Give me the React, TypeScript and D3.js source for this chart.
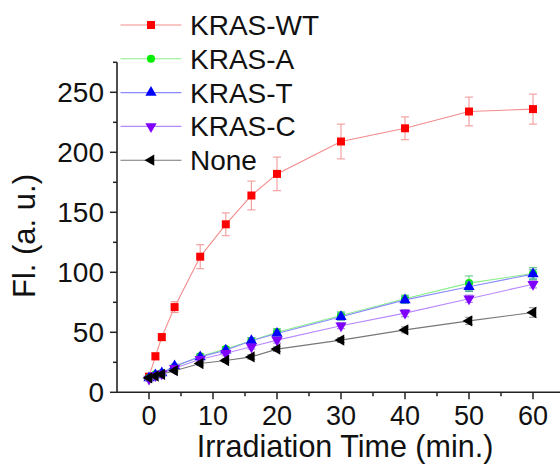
import React from "react";
import * as d3 from "d3";

const times = [0, 1, 2, 4, 8, 12, 16, 20, 30, 40, 50, 60];
const wtValues = [13, 30, 46, 71, 113, 140, 164, 182, 209, 220, 234, 236];
const wtErrors = [1.5, 3, 3, 4.5, 10, 9.5, 12, 14, 14.5, 9.5, 12, 12.5];
const aValues = [12, 15, 16, 21, 30, 36, 43, 50, 64, 78, 91, 99];
const aErrors = [1, 1, 1, 1.5, 2, 2, 2.5, 3, 3, 3, 6, 5];
const tValues = [12, 14.5, 16, 22, 29.5, 35, 43, 49, 63, 77, 88, 98.5];
const tErrors = [1, 1, 1, 1.5, 2, 2, 2.5, 2.5, 3, 3, 4, 4];
const cValues = [11, 14, 15.5, 20, 27.5, 32.5, 38, 43.5, 55.5, 66, 78, 90];
const cErrors = [1, 1, 1, 1.5, 2, 2, 2, 2.5, 2.5, 3, 3, 3];
const noneValues = [12, 13.5, 15, 18, 24, 26.5, 29.5, 36, 43.5, 52, 59.5, 66.5];
const noneErrors = [1, 1, 1, 1, 1.5, 1.5, 2, 2, 2, 2.5, 3, 4];

const seriesNames = ["KRAS-WT", "KRAS-A", "KRAS-T", "KRAS-C", "None"];
const xTicks = [0, 10, 20, 30, 40, 50, 60];
const yTicks = [0, 50, 100, 150, 200, 250];

const seriesStyle = [
  { marker: "#ff0000", line: "#f38b8b", err: "#f29a9a", shape: d3.symbolSquare, size: 64, rot: 0 },
  { marker: "#00ee00", line: "#88ee88", err: "#66cc88", shape: d3.symbolCircle, size: 52, rot: 0 },
  { marker: "#0000ff", line: "#8a8aff", err: "#55aaaa", shape: d3.symbolTriangle, size: 55, rot: 0 },
  { marker: "#8000ff", line: "#b888ff", err: "#aa88dd", shape: d3.symbolTriangle, size: 55, rot: 180 },
  { marker: "#000000", line: "#777777", err: "#999999", shape: d3.symbolTriangle, size: 55, rot: -90 },
];

const seriesData = [
  { values: wtValues, errors: wtErrors },
  { values: aValues, errors: aErrors },
  { values: tValues, errors: tErrors },
  { values: cValues, errors: cErrors },
  { values: noneValues, errors: noneErrors },
];

const FONT = "Arial, 'Liberation Sans', sans-serif";

export default function App() {
  const x = d3.scaleLinear().domain([-5, 65]).range([117, 565]);
  const y = d3.scaleLinear().domain([0, 275]).range([392.3, 62.3]);
  const line = d3
    .line<number>()
    .x((_, i) => x(times[i]))
    .y((d) => y(d));

  const xMinor = d3.range(5, 65, 10);
  const yMinor = d3.range(25, 276, 50);
  const axisColor = "#222";

  return (
    <svg
      width={560}
      height={464}
      style={{ position: "absolute", left: 0, top: 0, background: "#fff" }}
      fontFamily={FONT}
    >
      {/* axes */}
      <line x1={x(-5)} x2={560} y1={y(0)} y2={y(0)} stroke={axisColor} strokeWidth={1.6} />
      <line x1={x(-5)} x2={x(-5)} y1={y(0)} y2={y(275)} stroke={axisColor} strokeWidth={1.6} />
      {xTicks.map((t) => (
        <g key={"xt" + t}>
          <line x1={x(t)} x2={x(t)} y1={y(0)} y2={y(0) + 7} stroke={axisColor} strokeWidth={1.5} />
          <text x={x(t)} y={424.5} textAnchor="middle" fontSize={27} fill="#111">
            {t}
          </text>
        </g>
      ))}
      {xMinor.map((t) => (
        <line key={"xm" + t} x1={x(t)} x2={x(t)} y1={y(0)} y2={y(0) + 4} stroke={axisColor} strokeWidth={1.5} />
      ))}
      {yTicks.map((v) => (
        <g key={"yt" + v}>
          <line x1={x(-5) - 7} x2={x(-5)} y1={y(v)} y2={y(v)} stroke={axisColor} strokeWidth={1.5} />
          <text x={104} y={y(v) + 10} textAnchor="end" fontSize={28} fill="#111">
            {v}
          </text>
        </g>
      ))}
      {yMinor.map((v) => (
        <line key={"ym" + v} x1={x(-5) - 4} x2={x(-5)} y1={y(v)} y2={y(v)} stroke={axisColor} strokeWidth={1.5} />
      ))}
      <text x={345} y={457} textAnchor="middle" fontSize={30.5} fill="#111">
        Irradiation Time (min.)
      </text>
      <text
        transform={`translate(35, 236) rotate(-90)`}
        textAnchor="middle"
        fontSize={31}
        fill="#111"
      >
        Fl. (a. u.)
      </text>

      {/* series */}
      {seriesData.map((s, si) => {
        const st = seriesStyle[si];
        const sym = d3.symbol().type(st.shape).size(st.size)();
        return (
          <g key={"s" + si}>
            <path d={line(s.values) || ""} fill="none" stroke={st.line} strokeWidth={1.1} />
            {s.values.map((v, i) => {
              const cx = x(times[i]);
              const e = s.errors[i];
              return (
                <g key={"e" + i} stroke={st.err} strokeWidth={1.1}>
                  <line x1={cx} x2={cx} y1={y(v - e)} y2={y(v + e)} />
                  <line x1={cx - 4} x2={cx + 4} y1={y(v - e)} y2={y(v - e)} />
                  <line x1={cx - 4} x2={cx + 4} y1={y(v + e)} y2={y(v + e)} />
                </g>
              );
            })}
            {s.values.map((v, i) => (
              <path
                key={"m" + i}
                d={sym || ""}
                transform={`translate(${x(times[i])},${y(v)}) rotate(${st.rot})`}
                fill={st.marker}
              />
            ))}
          </g>
        );
      })}

      {/* legend */}
      {seriesNames.map((name, i) => {
        const st = seriesStyle[i];
        const ly = 25 + i * 33.8;
        const sym = d3.symbol().type(st.shape).size(st.size)();
        return (
          <g key={"lg" + i}>
            <line x1={120.5} x2={181.5} y1={ly} y2={ly} stroke={st.line} strokeWidth={1.1} />
            <path d={sym || ""} transform={`translate(151,${ly}) rotate(${st.rot})`} fill={st.marker} />
            <text x={190} y={ly + 10} fontSize={28} fill="#111">
              {name}
            </text>
          </g>
        );
      })}
    </svg>
  );
}
